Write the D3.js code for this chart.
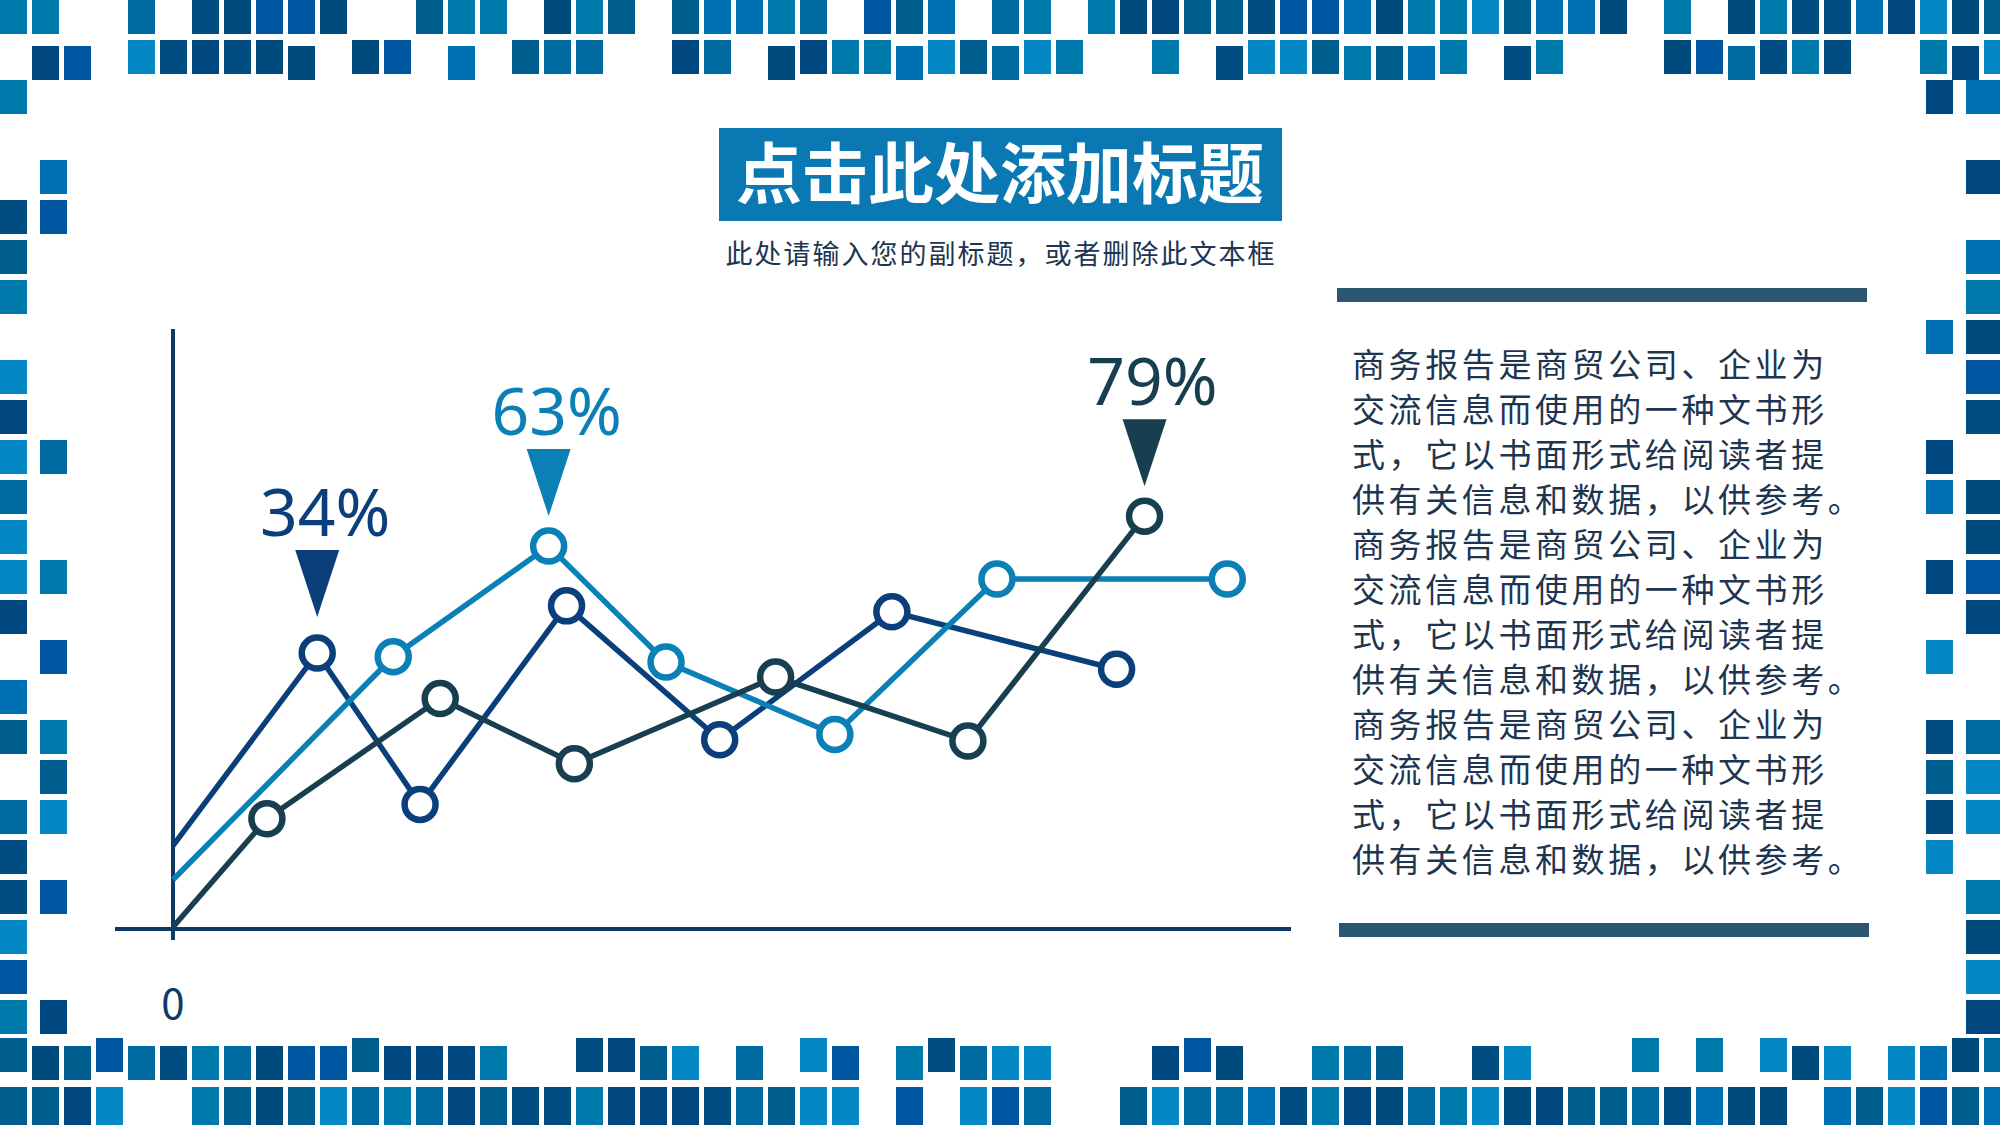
<!DOCTYPE html>
<html><head><meta charset="utf-8">
<script src="https://cdn.jsdelivr.net/npm/d3@7"></script>
<style>body{margin:0;background:#fff}svg{display:block}</style></head>
<body><svg id="c" width="2000" height="1125"></svg>
<script>
const titleText = "点击此处添加标题";
const subtitleText = "此处请输入您的副标题，或者删除此文本框";
const seriesNames = ["A","B","C"];
const seriesColors = ["#0b3f7c","#0a80b6","#173f4f"];
const xNavy  = [0,12.9,22.1,35.2,48.9,64.3,84.4];
const yNavy  = [13.6,45.8,20.5,53.7,31.3,52.7,43.1];
const xLight = [0,19.7,33.6,44.1,59.2,73.7,94.3];
const yLight = [7.9,45.2,63.7,44.3,32.2,58.2,58.2];
const xDark  = [0,8.4,23.9,35.9,53.9,71.1,86.9];
const yDark  = [0,18.1,38.2,27.3,41.8,31.1,68.7];
const calloutLabels = ["34%","63%","79%"];
const calloutIndex = [1,2,6];
const axisZeroLabel = "0";
const bodyLines = ["商务报告是商贸公司、企业为","交流信息而使用的一种文书形","式，它以书面形式给阅读者提","供有关信息和数据，以供参考。"];

const svg = d3.select("#c");
const font = "'Noto Sans CJK SC','Noto Sans',sans-serif";

// decorative border
const pal = ["#00467f","#0055a0","#004c80","#0079ad","#0587c5","#006aa0","#005e8e","#0070b5","#004a7c"];
function h(i,j,k){let v=Math.sin(i*12.9898+j*78.233+k*37.719)*43758.5453;return v-Math.floor(v);}
const B = svg.append("g");
function sq(x,y,w,ht,i,j,k){B.append("rect").attr("x",x).attr("y",y).attr("width",w).attr("height",ht)
  .attr("fill",pal[Math.floor(h(i,j,k+3)*pal.length)]);}
for(let i=0;i<63;i++){
  const x=i*32;
  if(h(i,0,1)<0.88) sq(x,0,27,34,i,0,1);
  if(h(i,1,1)<0.7) sq(x,40+(h(i,1,9)<0.3?6:0),27,34,i,1,1);
  if(h(i,2,1)<0.7) sq(x,1046-(h(i,2,9)<0.3?8:0),27,34,i,2,1);
  if(h(i,3,1)<0.88) sq(x,1087,27,38,i,3,1);
}
for(let j=2;j<26;j++){
  const y=j*40;
  if(y>1040) continue;
  if(h(0,j,5)<0.75) sq(0,y,27,34,0,j,5);
  if(h(1,j,5)<0.4) sq(40,y,27,34,1,j,5);
  if(h(2,j,5)<0.75) sq(1966,y,34,34,2,j,5);
  if(h(3,j,5)<0.4) sq(1926,y,27,34,3,j,5);
}

// title
svg.append("rect").attr("x",719).attr("y",128).attr("width",563).attr("height",93).attr("fill","#0a78b2");
svg.append("text").attr("x",1000).attr("y",198).attr("text-anchor","middle").attr("fill","#fff")
  .attr("font-family",font).attr("font-weight","bold").attr("font-size",66).text(titleText);
svg.append("text").attr("x",1001).attr("y",264).attr("text-anchor","middle").attr("fill","#1d3550")
  .attr("font-family",font).attr("font-size",27).attr("letter-spacing",2).text(subtitleText);

// chart
const x = d3.scaleLinear().domain([0,100]).range([173,1291]);
const y = d3.scaleLinear().domain([0,100]).range([927,329]);
const g = svg.append("g");
g.append("line").attr("x1",173).attr("x2",173).attr("y1",y(100)).attr("y2",y(0)+13).attr("stroke","#0d3b66").attr("stroke-width",4);
g.append("line").attr("x1",115).attr("x2",x(100)).attr("y1",y(0)+2).attr("y2",y(0)+2).attr("stroke","#0d3b66").attr("stroke-width",4);
g.append("text").attr("x",173).attr("y",1019).attr("text-anchor","middle").attr("fill","#0d3b66")
  .attr("font-family",font).attr("font-size",42).text(axisZeroLabel);

const series = [[xNavy,yNavy],[xLight,yLight],[xDark,yDark]].map((s,k)=>({name:seriesNames[k],color:seriesColors[k],pts:s[0].map((v,i)=>[v,s[1][i]])}));
const line = d3.line().x(d=>x(d[0])).y(d=>y(d[1]));
series.forEach(s=>{
  g.append("path").attr("d",line(s.pts)).attr("fill","none").attr("stroke",s.color).attr("stroke-width",5.5);
});
series.forEach(s=>{
  g.selectAll(null).data(s.pts.slice(1)).enter().append("circle")
   .attr("cx",d=>x(d[0])).attr("cy",d=>y(d[1])).attr("r",15.5)
   .attr("fill","#fff").attr("stroke",s.color).attr("stroke-width",6.5);
});
const calloutShift = [-8,-2,-2];
series.forEach((s,k)=>{
  const p = s.pts[calloutIndex[k]];
  const cx = x(p[0]), cy = y(p[1]) + calloutShift[k];
  const tipY = cy-28, topY = cy-95;
  g.append("path").attr("d",`M${cx-22},${topY}L${cx+22},${topY}L${cx},${tipY}Z`).attr("fill",s.color);
  g.append("text").attr("x",cx+8).attr("y",topY-14).attr("text-anchor","middle").attr("fill",s.color)
   .attr("font-family","'Noto Sans',sans-serif").attr("font-size",66).text(calloutLabels[k]);
});

// right panel
svg.append("rect").attr("x",1337).attr("y",288).attr("width",530).attr("height",14).attr("fill","#2b5773");
svg.append("rect").attr("x",1339).attr("y",923).attr("width",530).attr("height",14).attr("fill","#2b5773");
const lines = [].concat(bodyLines,bodyLines,bodyLines);
svg.append("g").selectAll("text").data(lines).enter().append("text")
  .attr("x",1352).attr("y",(d,i)=>377+i*45).attr("fill","#1d3550")
  .attr("font-family",font).attr("font-size",33).attr("letter-spacing",3.6).text(d=>d);
</script></body></html>
